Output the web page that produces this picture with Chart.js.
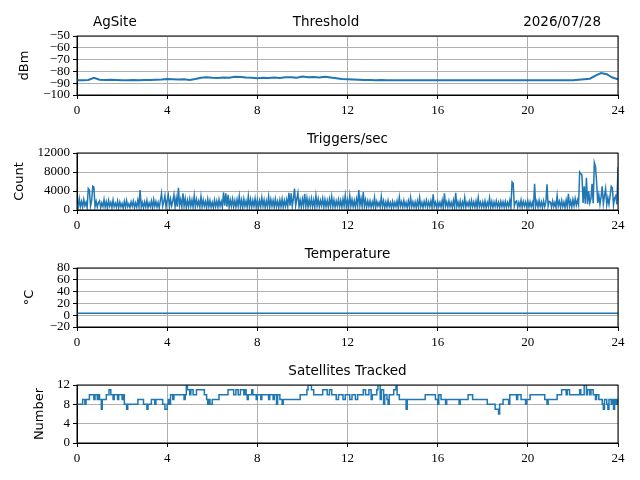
<!DOCTYPE html>
<html>
<head>
<meta charset="utf-8">
<script src="https://cdn.jsdelivr.net/npm/chart.js@4.4.1/dist/chart.umd.min.js"></script>
<style>
  body { margin: 0; background: #fff; }
  #wrap { position: relative; width: 640px; height: 480px; overflow: hidden; background: #fff; }
  canvas { position: absolute; left: 0; }
</style>
</head>
<body>
<div id="wrap">
  <canvas id="c1" width="640" height="120" style="top:0px"></canvas>
  <canvas id="c2" width="640" height="118" style="top:117px"></canvas>
  <canvas id="c3" width="640" height="120" style="top:232px"></canvas>
  <canvas id="c4" width="640" height="119" style="top:349px"></canvas>
</div>
<script>
// hour ticks shared by all panels
const hourTicks = [0, 4, 8, 12, 16, 20, 24]

// threshold, dBm, one value every 15 minutes
const thresholdStep = 0.25
const thresholdValues = [
  -87.5, -87.4, -87.2, -85.4,
  -87.0, -87.3, -87.0, -87.2,
  -87.4, -87.5, -87.3, -87.4,
  -87.3, -87.2, -87.0, -86.9,
  -86.5, -86.7, -86.8, -86.6,
  -87.2, -86.4, -85.3, -85.0,
  -85.4, -85.6, -85.2, -85.3,
  -84.6, -84.8, -85.2, -85.4,
  -85.8, -85.3, -85.6, -85.2,
  -85.5, -85.0, -84.9, -85.3,
  -84.4, -85.0, -84.8, -85.1,
  -84.6, -85.2, -85.8, -86.4,
  -86.6, -86.8, -87.0, -87.2,
  -87.3, -87.4, -87.3, -87.4,
  -87.5, -87.4, -87.5, -87.6,
  -87.5, -87.6, -87.5, -87.5,
  -87.6, -87.5, -87.6, -87.5,
  -87.6, -87.5, -87.6, -87.6,
  -87.6, -87.5, -87.6, -87.6,
  -87.6, -87.6, -87.5, -87.6,
  -87.6, -87.6, -87.6, -87.6,
  -87.6, -87.6, -87.6, -87.6,
  -87.5, -87.0, -86.6, -86.2,
  -83.6, -81.4, -82.4, -85.2,
  -86.8
]

// triggers per second, one value every 3 minutes (one row per hour)
const triggerStep = 0.05
const triggerValues = [
  1200,500,2400,700,1800,600,2200,900,1600,500,4500,4200,800,1900,5000,4800,700,1800,600,1500,
  1900,500,1500,700,2200,600,1700,400,2000,800,1600,500,2100,700,1400,600,1900,500,1700,700,
  1400,400,1800,600,2000,700,1300,500,1700,800,1900,500,1500,600,2100,700,4200,600,1600,500,
  1700,600,2000,500,1500,700,1900,400,2200,800,1800,600,1600,500,2000,3500,800,1700,3000,600,
  2100,3200,700,2300,900,1900,3200,600,2500,700,4700,1000,2200,600,3500,800,2400,500,2000,700,
  2300,800,2100,600,3000,700,2200,900,1900,600,2800,700,2100,800,1800,500,2300,700,2000,600,
  1600,500,2100,700,1900,600,2200,800,1800,600,3700,900,3500,700,3200,600,2100,800,2300,700,
  2000,600,2200,800,2900,700,2100,500,2300,800,1900,600,2900,700,2200,600,2000,800,2400,600,
  2200,600,2000,700,2600,800,2100,500,1900,700,2800,600,2200,800,2000,600,2300,700,1800,500,
  2100,700,2300,600,2000,800,2200,700,3600,900,3500,800,2400,4500,900,2300,3600,700,2100,600,
  2300,900,3400,700,2500,600,2200,800,2400,700,2100,600,3000,800,2300,700,2000,900,2400,600,
  2200,700,2000,600,2300,800,2800,700,2100,600,1900,800,2200,700,2000,600,2300,800,3000,700,
  2100,600,3000,800,2200,700,2000,600,2300,800,4200,900,2400,700,3800,800,2100,600,1900,700,
  1900,600,1700,700,2600,500,1800,800,1600,600,2800,700,1900,500,1700,600,2000,700,1600,500,
  1800,600,1600,700,1900,500,2700,800,1700,600,2000,700,1600,500,1900,600,2600,700,1700,600,
  1700,500,1900,600,2600,700,1600,500,1800,800,2000,600,1700,700,1900,500,3300,700,1600,600,
  1800,700,1600,600,2000,500,3500,800,1700,600,1900,700,1600,500,2000,600,3600,700,1700,600,
  1900,500,1700,700,2600,600,1600,800,1800,500,2000,700,1700,600,1900,500,2600,700,1600,600,
  1700,600,1900,500,1600,700,2500,600,1800,500,1700,700,1900,600,1600,500,1800,700,1700,600,
  1800,600,1600,700,2000,500,5900,5600,800,1700,1900,600,1600,700,2100,600,1800,800,1700,600,
  1900,600,1700,700,1600,500,5500,800,1800,600,2000,700,1700,500,1900,700,1600,5400,800,1800,
  1700,600,1900,700,1600,500,3000,800,1800,600,2000,700,1700,500,2100,700,3400,800,1900,600,
  2200,900,2400,1000,2100,1100,8000,7600,7400,1500,5000,1300,6800,1200,4000,1500,2400,5500,1400,10000,
  9200,6000,1500,3200,1200,2800,5000,1300,3000,4500,1100,2600,1200,2900,5000,4700,1000,2500,3000,1200,
  9000
]

// temperature, degrees C
const tempHours = [0, 6, 12, 18, 24]
const tempValues = [3.2, 3.2, 3.2, 3.2, 3.2]

// satellites tracked, change points (hour, count)
const satHours = [
  0, 0.25, 0.35, 0.4, 0.55, 0.75, 0.8, 0.9, 0.95, 1.0, 1.08, 1.12, 1.3, 1.42, 1.5, 1.6, 1.65, 1.8, 1.85, 2.0,
  2.05, 2.1, 2.2, 2.25, 2.7, 2.95, 3.1, 3.15, 3.3, 3.45, 3.5, 3.8, 3.9, 4.0, 4.05, 4.1, 4.15, 4.25, 4.3, 4.75,
  4.8, 4.85, 4.9, 5.0, 5.05, 5.15, 5.3, 5.65, 5.75, 5.8, 5.85, 5.9, 6.0, 6.3, 6.7, 6.95, 7.05, 7.15, 7.25, 7.4,
  7.45, 7.5, 7.55, 7.6, 7.75, 7.8, 7.95, 8.0, 8.15, 8.2, 8.5, 8.55, 8.7, 8.75, 8.85, 8.9, 9.0, 9.1, 9.15, 9.9,
  10.2, 10.25, 10.4, 10.5, 10.9, 11.1, 11.2, 11.3, 11.5, 11.6, 11.8, 11.9, 12.1, 12.2, 12.35, 12.45, 12.7, 12.8, 12.95, 13.05,
  13.1, 13.3, 13.35, 13.45, 13.5, 13.6, 13.65, 13.75, 13.8, 13.85, 14.05, 14.15, 14.2, 14.3, 14.6, 14.65, 15.45, 15.9, 16.0, 16.05,
  16.15, 16.35, 16.4, 16.95, 17.0, 17.35, 17.55, 18.2, 18.55, 18.7, 18.75, 18.9, 19.15, 19.2, 19.5, 19.55, 19.7, 19.9, 19.95, 20.1,
  20.75, 20.85, 20.9, 21.3, 21.5, 21.7, 21.75, 21.85, 22.3, 22.35, 22.5, 22.6, 22.65, 22.75, 22.8, 22.9, 23.0, 23.05, 23.15, 23.3,
  23.35, 23.4, 23.5, 23.55, 23.6, 23.7, 23.75, 23.8, 23.85, 23.9, 23.95, 24
]
const satCounts = [
  8, 9, 8, 9, 10, 9, 10, 9, 10, 9, 7, 9, 10, 11, 10, 9, 10, 9, 10, 9,
  10, 8, 7, 8, 9, 8, 7, 8, 9, 8, 9, 8, 7, 8, 9, 8, 10, 9, 10, 9,
  10, 12, 11, 10, 11, 10, 11, 10, 9, 8, 9, 8, 9, 10, 11, 10, 11, 10, 11, 10,
  11, 10, 9, 10, 11, 10, 9, 10, 9, 10, 9, 10, 9, 10, 8, 10, 9, 8, 9, 10,
  11, 12, 11, 10, 11, 10, 11, 10, 9, 10, 9, 10, 9, 10, 9, 10, 11, 10, 11, 9,
  10, 11, 12, 9, 11, 8, 10, 9, 8, 10, 11, 12, 10, 9, 7, 9, 10, 9, 8, 10,
  9, 8, 9, 8, 9, 10, 9, 8, 7, 6, 8, 9, 8, 10, 9, 10, 9, 8, 9, 10,
  9, 8, 9, 10, 11, 10, 11, 10, 11, 10, 12, 10, 11, 10, 11, 10, 9, 10, 9, 8,
  7, 9, 8, 7, 9, 8, 9, 7, 9, 8, 9, 8
]

const blue = '#1f77b4'
const serif = "'Liberation Serif', 'Times New Roman', serif"
const sans = "'DejaVu Sans', sans-serif"

Chart.defaults.font.family = serif
Chart.defaults.font.size = 13

const tickFont = { family: serif, size: 13 }
const minus = v => String(v).replace('-', '\u2212')

// matplotlib style frame + panel titles
const framePlugin = {
  id: 'frame',
  afterDatasetsDraw(chart, args, opts) {
    const { ctx, chartArea: a } = chart
    ctx.save()
    ctx.strokeStyle = '#000'
    ctx.lineWidth = 1
    ctx.strokeRect(a.left, a.top, a.right - a.left, a.bottom - a.top)
    ctx.fillStyle = '#000'
    ctx.font = '13.5px ' + sans
    ctx.textBaseline = 'middle'
    for (const t of opts.titles || []) {
      ctx.textAlign = t.align
      ctx.fillText(t.text, t.x, a.top - 14)
    }
    ctx.restore()
  }
}

function panel(id, points, yOpts, yLabel, labelPad, titles, stepped, lineWidth) {
  const canvas = document.getElementById(id)
  return new Chart(canvas, {
    type: 'line',
    data: {
      datasets: [{
        data: points,
        borderColor: blue,
        borderWidth: lineWidth,
        pointRadius: 0,
        stepped: stepped,
        tension: 0
      }]
    },
    options: {
      responsive: false,
      animation: false,
      layout: { padding: { top: 36, right: 22, left: 0, bottom: 0 } },
      plugins: {
        legend: { display: false },
        tooltip: { enabled: false },
        frame: { titles }
      },
      scales: {
        x: {
          type: 'linear',
          min: 0,
          max: 24,
          afterBuildTicks: s => { s.ticks = hourTicks.map(v => ({ value: v })) },
          afterFit: s => { s.height = 25 },
          grid: { color: '#b0b0b0', lineWidth: 1, tickColor: '#000', tickLength: 4 },
          border: { color: '#000' },
          ticks: { font: tickFont, color: '#000', padding: 4, maxRotation: 0, autoSkip: false }
        },
        y: {
          min: yOpts.min,
          max: yOpts.max,
          afterFit: s => { s.width = 77 },
          grid: { color: '#b0b0b0', lineWidth: 1, tickColor: '#000', tickLength: 4 },
          border: { color: '#000' },
          ticks: {
            stepSize: yOpts.step,
            autoSkip: false,
            font: tickFont,
            color: '#000',
            padding: 3,
            callback: v => minus(v)
          },
          title: {
            display: true,
            text: yLabel,
            color: '#000',
            font: { family: sans, size: 13 },
            padding: { top: labelPad, bottom: 0 }
          }
        }
      }
    },
    plugins: [framePlugin]
  })
}

const thresholdPoints = thresholdValues.map((v, i) => ({ x: i * thresholdStep, y: v }))
const triggerPoints = triggerValues.map((v, i) => ({ x: i * triggerStep, y: v }))
const tempPoints = tempHours.map((h, i) => ({ x: h, y: tempValues[i] }))
const satPoints = satHours.map((h, i) => ({ x: h, y: satCounts[i] }))

panel('c1', thresholdPoints, { min: -100, max: -50, step: 10 }, 'dBm', 17, [
  { text: 'AgSite', x: 93, align: 'left' },
  { text: 'Threshold', x: 326, align: 'center' },
  { text: '2026/07/28', x: 601, align: 'right' }
], false, 2)
panel('c2', triggerPoints, { min: 0, max: 12000, step: 4000 }, 'Count', 12, [
  { text: 'Triggers/sec', x: 347.5, align: 'center' }
], false, 1.5)
panel('c3', tempPoints, { min: -20, max: 80, step: 20 }, '\u00B0C', 22, [
  { text: 'Temperature', x: 347.5, align: 'center' }
], false, 1.5)
panel('c4', satPoints, { min: 0, max: 12, step: 4 }, 'Number', 32, [
  { text: 'Satellites Tracked', x: 347.5, align: 'center' }
], true, 1.5)
</script>
</body>
</html>
